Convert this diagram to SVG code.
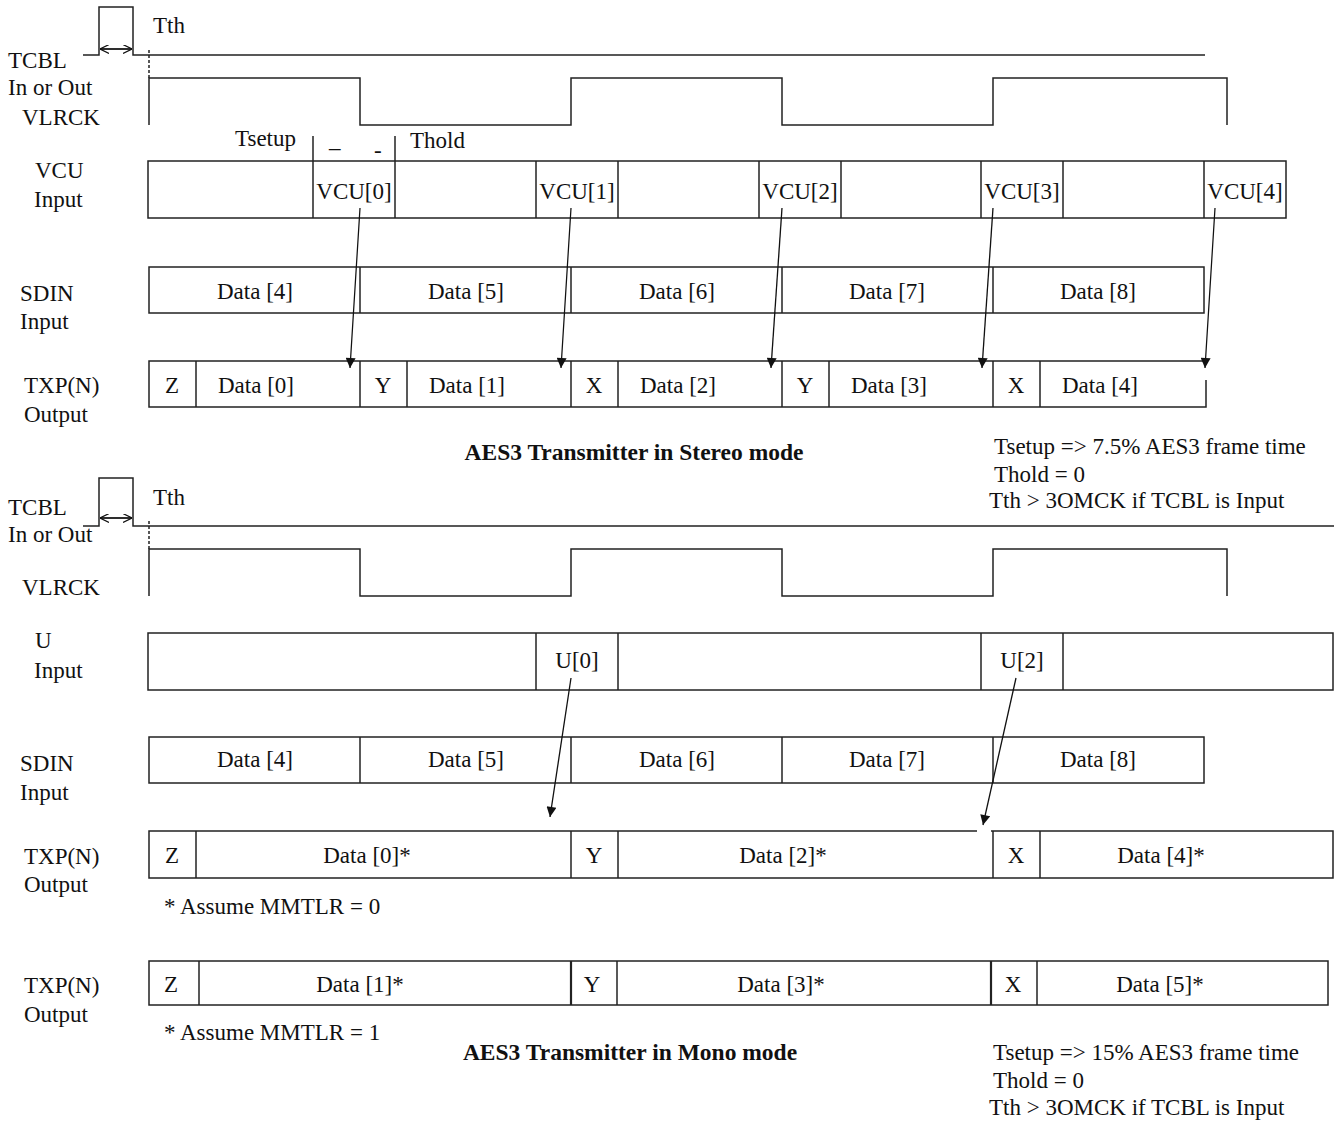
<svg xmlns="http://www.w3.org/2000/svg" width="1334" height="1122" viewBox="0 0 1334 1122">
<style>
text{font-family:"Liberation Serif","Times New Roman",serif;font-size:23px;fill:#111}
.c{text-anchor:middle}
.b{font-weight:bold;font-size:23.5px}
.w{fill:none;stroke:#222;stroke-width:1.5}
.ar{fill:none;stroke:#111;stroke-width:1.3}
</style>
<defs>
<marker id="big" viewBox="0 0 10 10" refX="10" refY="5" markerWidth="14" markerHeight="10" markerUnits="userSpaceOnUse" orient="auto"><path d="M0,0 L10,5 L0,10 z" fill="#111"/></marker>
<marker id="open" viewBox="0 0 10 10" refX="10" refY="5" markerWidth="9" markerHeight="9" markerUnits="userSpaceOnUse" orient="auto"><path d="M0,0 L10,5 L0,10" fill="none" stroke="#111" stroke-width="1.3"/></marker>
</defs>

<!-- ===== STEREO ===== -->
<g id="stereo-labels">
<text x="153" y="33">Tth</text>
<text x="8" y="68">TCBL</text>
<text x="8" y="95">In or Out</text>
<text x="22" y="125">VLRCK</text>
<text x="235" y="146">Tsetup</text>
<text x="329" y="147">_</text>
<text x="374" y="158">-</text>
<text x="410" y="148">Thold</text>
<text x="35" y="178">VCU</text>
<text x="34" y="207">Input</text>
<text x="20" y="301">SDIN</text>
<text x="20" y="329">Input</text>
<text x="24" y="393">TXP(N)</text>
<text x="24" y="422">Output</text>
<text class="c b" x="634" y="460">AES3 Transmitter in Stereo mode</text>
<text x="994" y="454">Tsetup =&gt; 7.5% AES3 frame time</text>
<text x="994" y="482">Thold = 0</text>
<text x="989" y="508">Tth &gt; 3OMCK if TCBL is Input</text>
</g>

<g id="stereo-tcbl">
<polyline class="w" points="83,55 99,55 99,7 133,7 133,55 1205,55"/>
<line class="w" x1="149" y1="50" x2="149" y2="78" style="stroke-dasharray:3,2"/>
</g>
<g id="stereo-vlrck">
<polyline class="w" points="149,125 149,78 360,78 360,125 571,125 571,78 782,78 782,125 993,125 993,78 1227,78 1227,125"/>
</g>
<g id="stereo-tsetup">
<line class="w" x1="313" y1="136" x2="313" y2="161"/>
<line class="w" x1="395" y1="136" x2="395" y2="161"/>
</g>
<g id="stereo-vcu">
<rect class="w" x="148" y="161" width="1138" height="57"/>
<line class="w" x1="313" y1="161" x2="313" y2="218"/>
<line class="w" x1="395" y1="161" x2="395" y2="218"/>
<line class="w" x1="536" y1="161" x2="536" y2="218"/>
<line class="w" x1="618" y1="161" x2="618" y2="218"/>
<line class="w" x1="759" y1="161" x2="759" y2="218"/>
<line class="w" x1="841" y1="161" x2="841" y2="218"/>
<line class="w" x1="981" y1="161" x2="981" y2="218"/>
<line class="w" x1="1063" y1="161" x2="1063" y2="218"/>
<line class="w" x1="1204" y1="161" x2="1204" y2="218"/>
<text class="c" x="354" y="199">VCU[0]</text>
<text class="c" x="577" y="199">VCU[1]</text>
<text class="c" x="800" y="199">VCU[2]</text>
<text class="c" x="1022" y="199">VCU[3]</text>
<text class="c" x="1245" y="199">VCU[4]</text>
</g>
<g id="stereo-sdin">
<rect class="w" x="149" y="267" width="1055" height="46"/>
<line class="w" x1="360" y1="267" x2="360" y2="313"/>
<line class="w" x1="571" y1="267" x2="571" y2="313"/>
<line class="w" x1="782" y1="267" x2="782" y2="313"/>
<line class="w" x1="993" y1="267" x2="993" y2="313"/>
<text class="c" x="255" y="299">Data [4]</text>
<text class="c" x="466" y="299">Data [5]</text>
<text class="c" x="677" y="299">Data [6]</text>
<text class="c" x="887" y="299">Data [7]</text>
<text class="c" x="1098" y="299">Data [8]</text>
</g>
<g id="stereo-txp">
<polyline class="w" points="1205,361 149,361 149,407 1206,407 1206,380"/>
<line class="w" x1="196" y1="361" x2="196" y2="407"/>
<line class="w" x1="360" y1="361" x2="360" y2="407"/>
<line class="w" x1="407" y1="361" x2="407" y2="407"/>
<line class="w" x1="571" y1="361" x2="571" y2="407"/>
<line class="w" x1="618" y1="361" x2="618" y2="407"/>
<line class="w" x1="782" y1="361" x2="782" y2="407"/>
<line class="w" x1="829" y1="361" x2="829" y2="407"/>
<line class="w" x1="993" y1="361" x2="993" y2="407"/>
<line class="w" x1="1040" y1="361" x2="1040" y2="407"/>
<text class="c" x="172" y="393">Z</text>
<text x="218" y="393">Data [0]</text>
<text class="c" x="383" y="393">Y</text>
<text x="429" y="393">Data [1]</text>
<text class="c" x="594" y="393">X</text>
<text x="640" y="393">Data [2]</text>
<text class="c" x="805" y="393">Y</text>
<text x="851" y="393">Data [3]</text>
<text class="c" x="1016" y="393">X</text>
<text x="1062" y="393">Data [4]</text>
</g>

<!-- ===== MONO ===== -->
<g id="mono-labels">
<text x="153" y="505">Tth</text>
<text x="8" y="515">TCBL</text>
<text x="8" y="542">In or Out</text>
<text x="22" y="595">VLRCK</text>
<text x="35" y="648">U</text>
<text x="34" y="678">Input</text>
<text x="20" y="771">SDIN</text>
<text x="20" y="800">Input</text>
<text x="24" y="864">TXP(N)</text>
<text x="24" y="892">Output</text>
<text x="164" y="914">* Assume MMTLR = 0</text>
<text x="24" y="993">TXP(N)</text>
<text x="24" y="1022">Output</text>
<text x="164" y="1040">* Assume MMTLR = 1</text>
<text class="c b" x="630" y="1060">AES3 Transmitter in Mono mode</text>
<text x="993" y="1060">Tsetup =&gt; 15% AES3 frame time</text>
<text x="993" y="1088">Thold = 0</text>
<text x="989" y="1115">Tth &gt; 3OMCK if TCBL is Input</text>
</g>

<g id="mono-tcbl">
<polyline class="w" points="83,526 99,526 99,478 133,478 133,526 1334,526"/>
<line class="w" x1="149" y1="521" x2="149" y2="549" style="stroke-dasharray:3,2"/>
</g>
<g id="mono-vlrck">
<polyline class="w" points="149,596 149,549 360,549 360,596 571,596 571,549 782,549 782,596 993,596 993,549 1227,549 1227,596"/>
</g>
<g id="mono-u">
<rect class="w" x="148" y="633" width="1185" height="57"/>
<line class="w" x1="536" y1="633" x2="536" y2="690"/>
<line class="w" x1="618" y1="633" x2="618" y2="690"/>
<line class="w" x1="981" y1="633" x2="981" y2="690"/>
<line class="w" x1="1063" y1="633" x2="1063" y2="690"/>
<text class="c" x="577" y="668">U[0]</text>
<text class="c" x="1022" y="668">U[2]</text>
</g>
<g id="mono-sdin">
<rect class="w" x="149" y="737" width="1055" height="46"/>
<line class="w" x1="360" y1="737" x2="360" y2="783"/>
<line class="w" x1="571" y1="737" x2="571" y2="783"/>
<line class="w" x1="782" y1="737" x2="782" y2="783"/>
<line class="w" x1="993" y1="737" x2="993" y2="783"/>
<text class="c" x="255" y="767">Data [4]</text>
<text class="c" x="466" y="767">Data [5]</text>
<text class="c" x="677" y="767">Data [6]</text>
<text class="c" x="887" y="767">Data [7]</text>
<text class="c" x="1098" y="767">Data [8]</text>
</g>
<g id="mono-txp1">
<polyline class="w" points="977,831 149,831 149,878 1333,878 1333,831 991,831"/>
<line class="w" x1="196" y1="831" x2="196" y2="878"/>
<line class="w" x1="571" y1="831" x2="571" y2="878"/>
<line class="w" x1="618" y1="831" x2="618" y2="878"/>
<line class="w" x1="993" y1="831" x2="993" y2="878"/>
<line class="w" x1="1040" y1="831" x2="1040" y2="878"/>
<text class="c" x="172" y="863">Z</text>
<text class="c" x="367" y="863">Data [0]*</text>
<text class="c" x="594" y="863">Y</text>
<text class="c" x="783" y="863">Data [2]*</text>
<text class="c" x="1016" y="863">X</text>
<text class="c" x="1161" y="863">Data [4]*</text>
</g>
<g id="mono-txp2">
<rect class="w" x="149" y="961" width="1179" height="44"/>
<line class="w" x1="199" y1="961" x2="199" y2="1005"/>
<line class="w" x1="571" y1="961" x2="571" y2="1005" style="stroke-width:2.2"/>
<line class="w" x1="617" y1="961" x2="617" y2="1005"/>
<line class="w" x1="991" y1="961" x2="991" y2="1005" style="stroke-width:2.2"/>
<line class="w" x1="1037" y1="961" x2="1037" y2="1005"/>
<text class="c" x="171" y="992">Z</text>
<text class="c" x="360" y="992">Data [1]*</text>
<text class="c" x="592" y="992">Y</text>
<text class="c" x="781" y="992">Data [3]*</text>
<text class="c" x="1013" y="992">X</text>
<text class="c" x="1160" y="992">Data [5]*</text>
</g>

<g id="connectors">
<line class="ar" x1="101" y1="49" x2="132" y2="49" marker-end="url(#open)"/>
<line class="ar" x1="132" y1="49" x2="100" y2="49" marker-end="url(#open)"/>
<line class="ar" x1="101" y1="518" x2="132" y2="518" marker-end="url(#open)"/>
<line class="ar" x1="132" y1="518" x2="100" y2="518" marker-end="url(#open)"/>
<line class="ar" x1="360" y1="208" x2="350" y2="368" marker-end="url(#big)"/>
<line class="ar" x1="571" y1="208" x2="561" y2="368" marker-end="url(#big)"/>
<line class="ar" x1="782" y1="208" x2="771" y2="368" marker-end="url(#big)"/>
<line class="ar" x1="993" y1="208" x2="982" y2="368" marker-end="url(#big)"/>
<line class="ar" x1="1215" y1="208" x2="1205" y2="368" marker-end="url(#big)"/>
<line class="ar" x1="571" y1="678" x2="550" y2="817" marker-end="url(#big)"/>
<line class="ar" x1="1016" y1="678" x2="983" y2="825" marker-end="url(#big)"/>
</g>
</svg>
